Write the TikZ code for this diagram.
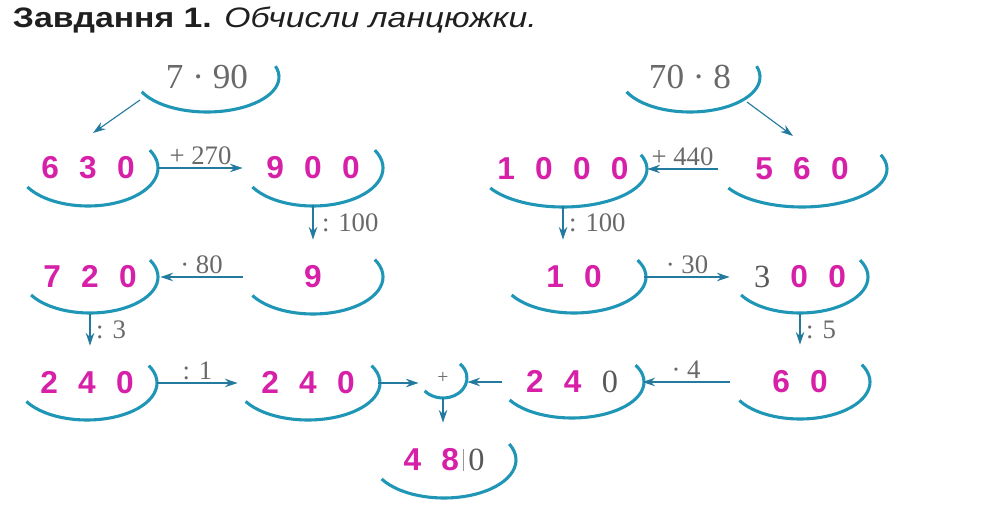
\documentclass[tikz,border=0pt]{standalone}
\usepackage{fontspec}
\setmainfont{Liberation Serif}
\setsansfont{Liberation Sans}
\newfontfamily\titlefont[FakeStretch=1.2]{Liberation Sans}
\usetikzlibrary{arrows.meta,positioning}
\definecolor{digitpink}{RGB}{214,32,168}
\definecolor{ringteal}{RGB}{32,150,182}
\definecolor{linkblue}{RGB}{36,122,158}
\definecolor{opgray}{RGB}{105,105,105}
\newcommand\chaindigits{\sffamily\bfseries\fontsize{22.5}{26}\selectfont\spaceskip=0.64em\relax}
\newcommand\plaindigit[1]{{\color{opgray!85!black}\rmfamily\mdseries\fontsize{23}{26}\selectfont #1}}
\begin{document}
\begin{tikzpicture}[x=0.025cm, y=-0.025cm,
    number/.style={minimum width=3.5cm, minimum height=1.85cm, inner sep=0pt, font=\chaindigits, text=digitpink},
    wide/.style={number, minimum width=4.2cm},
    task/.style={minimum width=3.5cm, minimum height=1.7cm, inner sep=0pt, font=\fontsize{25}{28}\selectfont, text=opgray},
    hub/.style={minimum width=1.2cm, minimum height=1cm, inner sep=0pt, font=\fontsize{14}{16}\selectfont, text=opgray},
    ring/.style={draw=ringteal, line width=2.2pt},
    link/.style={draw=linkblue, line width=0.8pt, -{Stealth[length=9pt,width=6pt]}},
    op/.style={font=\fontsize{19}{22}\selectfont, text=opgray, inner sep=2pt}]
   \useasboundingbox (0,0) rectangle (1008,510);
   \node[anchor=base west, font=\titlefont\fontsize{20}{24}\selectfont, text=black!88] (title) at (8,28)
      {\textbf{Завдання 1.} \textit{Обчисли ланцюжки.}};
   % top tasks
   \node[task] (A) at (207,77) {7 · 90};
   \node[task] (B) at (690,77) {70 · 8};
   % left chain
   \node[number] (n630) at (88,168) {6 3 0};
   \node[number] (n900) at (313,168) {9 0 0};
   \node[number] (n9) at (313,277) {9};
   \node[number] (n720) at (90,277) {7 2 0};
   \node[number] (n240a) at (87,383) {2 4 0};
   \node[number] (n240b) at (308,383) {2 4 0};
   % right chain
   \node[wide] (n560) at (802,169) {5 6 0};
   \node[wide] (n1000) at (563,169) {1 0 0 0};
   \node[number] (n10) at (574,277) {1 0};
   \node[number] (n300) at (800,277) {\plaindigit{3} 0 0};
   \node[number] (n60) at (800,382) {6 0};
   \node[number] (n240c) at (572,382) {2 4 \plaindigit{0}};
   % sum
   \node[hub] (hub) at (443,378) {+};
   \node[number] (n480) at (444,460) {4 8\hspace{3pt}{\color{black!40}\vrule width 0.6pt}\hspace{3pt}\plaindigit{0}};
   \foreach \n/\rx/\ry/\a/\b in {A/72/35/155/-18, B/70/35/155/-18,
       n630/70/38/150/-28, n900/70/38/150/-28, n9/70/37/150/-28, n720/68/36/150/-28,
       n240a/70/37/150/-28, n240b/72/37/150/-28, n560/85/38/150/-22, n1000/84/38/150/-22,
       n10/72/36/150/-28, n300/68/36/150/-28, n60/70/37/150/-28, n240c/72/36/150/-28,
       hub/24/20/140/-45, n480/72/38/150/-25}
     \draw[ring] ([shift={({\rx*cos(\a)},{\ry*sin(\a)})}]\n.center) arc[start angle=\a, end angle=\b, x radius=\rx, y radius=\ry];
   \draw[link] ([shift={(-67,23)}]A.center) -- ([shift={(5,-35)}]n630.center);
   \draw[link] (n630.east) -- node[op, above] {+ 270} (n900.west);
   \draw[link] (n900.south) -- node[op, right=4pt] {: 100} (n9.north);
   \draw[link] (n9.west) -- node[op, above] {· 80} (n720.east);
   \draw[link] (n720.south) -- node[op, right=2pt] {: 3} (n720.south |- n240a.north);
   \draw[link] (n240a.east) -- node[op, above] {: 1} (n240b.west);
   \draw[link] (n240b.east) -- (n240b.east -| hub.west);
   \draw[link] ([shift={(57,25)}]B.center) -- ([shift={(-9,-33)}]n560.center);
   \draw[link] (n560.west) -- node[op, above] {+ 440} (n1000.east);
   \draw[link] (n1000.south) -- node[op, right=2pt] {: 100} (n1000.south |- n10.north);
   \draw[link] (n10.east) -- node[op, above] {· 30} (n300.west);
   \draw[link] (n300.south) -- node[op, right=2pt] {: 5} (n60.north);
   \draw[link] (n60.west) -- node[op, above] {· 4} (n240c.east);
   \draw[link] (n240c.west) -- (n240c.west -| hub.east);
   \draw[link] (hub.south) -- (hub.south |- n480.north);
\end{tikzpicture}
\end{document}
